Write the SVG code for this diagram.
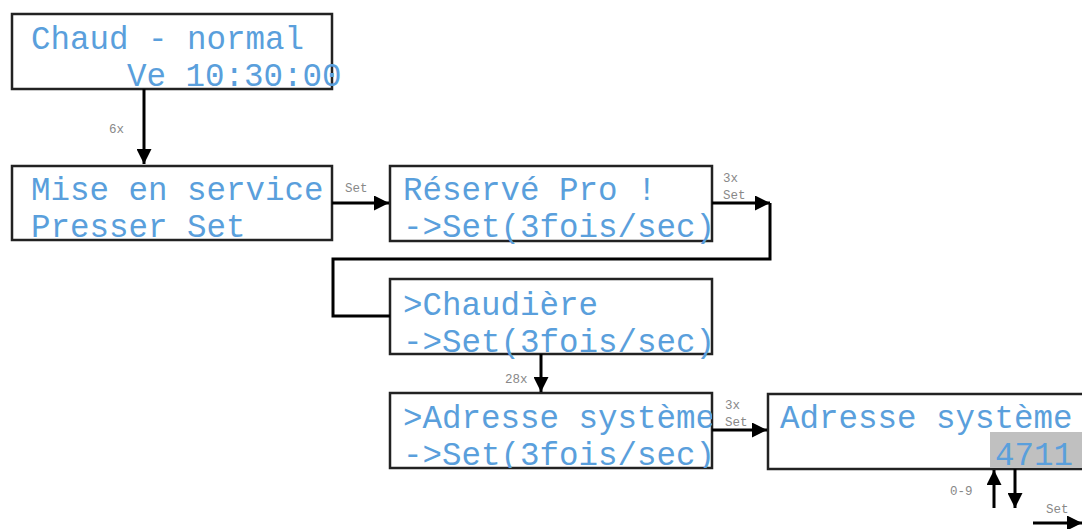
<svg xmlns="http://www.w3.org/2000/svg" width="1082" height="529" viewBox="0 0 1082 529">
<style>
.box{fill:#fff;stroke:#222;stroke-width:2.5}
.t{font-family:"Liberation Mono","Courier New",monospace;font-size:32.5px;fill:#5a9fdc}
.l{font-family:"Liberation Mono",monospace;font-size:12.5px;fill:#888}
.c{fill:none;stroke:#000;stroke-width:3}
</style>
<defs>
<marker id="ah" viewBox="0 0 10 10" refX="10" refY="5" markerWidth="5" markerHeight="5" markerUnits="strokeWidth" orient="auto">
<path d="M0,0 L10,5 L0,10 z" fill="#000"/>
</marker>
<clipPath id="c5"><rect x="390" y="392" width="322" height="76"/></clipPath>
</defs>
<rect width="1082" height="529" fill="#fff"/>
<g id="n1">
<rect class="box" x="12" y="14" width="320" height="75"/>
<text class="t" x="31" y="49">Chaud - normal</text>
<text class="t" x="127" y="86">Ve 10:30:00</text>
</g>
<g id="n2">
<rect class="box" x="12" y="166" width="320" height="74"/>
<text class="t" x="31" y="200">Mise en service</text>
<text class="t" x="31" y="237">Presser Set</text>
</g>
<g id="n3">
<rect class="box" x="390" y="166" width="322" height="75"/>
<text class="t" x="403" y="200">Réservé Pro !</text>
<text class="t" x="403" y="237">-&gt;Set(3fois/sec)</text>
</g>
<g id="n4">
<rect class="box" x="390" y="279" width="322" height="75"/>
<text class="t" x="403" y="315">&gt;Chaudière</text>
<text class="t" x="403" y="352">-&gt;Set(3fois/sec)</text>
</g>
<g id="n5">
<rect class="box" x="390" y="393" width="322" height="75"/>
<g clip-path="url(#c5)">
<text class="t" x="403" y="428">&gt;Adresse système</text>
<text class="t" x="403" y="465">-&gt;Set(3fois/sec)</text>
</g>
</g>
<g id="n6">
<rect class="box" x="768" y="394" width="330" height="75"/>
<rect x="990" y="432" width="92" height="36" fill="#c0c0c0"/>
<text class="t" x="780" y="428">Adresse système</text>
<text class="t" x="995" y="465">4711</text>
</g>
<g id="connectors">
<line class="c" x1="144" y1="89" x2="144" y2="164" marker-end="url(#ah)"/>
<line class="c" x1="332" y1="203" x2="389" y2="203" marker-end="url(#ah)"/>
<line class="c" x1="712" y1="203" x2="770" y2="203" marker-end="url(#ah)"/>
<polyline class="c" points="770,203 770,259 333,259 333,316 390,316"/>
<line class="c" x1="541" y1="354" x2="541" y2="392" marker-end="url(#ah)"/>
<line class="c" x1="712" y1="430" x2="767" y2="430" marker-end="url(#ah)"/>
<line class="c" x1="994" y1="508" x2="994" y2="470" marker-end="url(#ah)"/>
<line class="c" x1="1015" y1="469" x2="1015" y2="508" marker-end="url(#ah)"/>
<line class="c" x1="1033" y1="523" x2="1082" y2="523" marker-end="url(#ah)"/>
</g>
<g id="labels">
<text class="l" x="109" y="133">6x</text>
<text class="l" x="345" y="192">Set</text>
<text class="l" x="723" y="182">3x</text>
<text class="l" x="723" y="199">Set</text>
<text class="l" x="505" y="383">28x</text>
<text class="l" x="725" y="409">3x</text>
<text class="l" x="725" y="426">Set</text>
<text class="l" x="950" y="495">0-9</text>
<text class="l" x="1046" y="513">Set</text>
</g>
</svg>
